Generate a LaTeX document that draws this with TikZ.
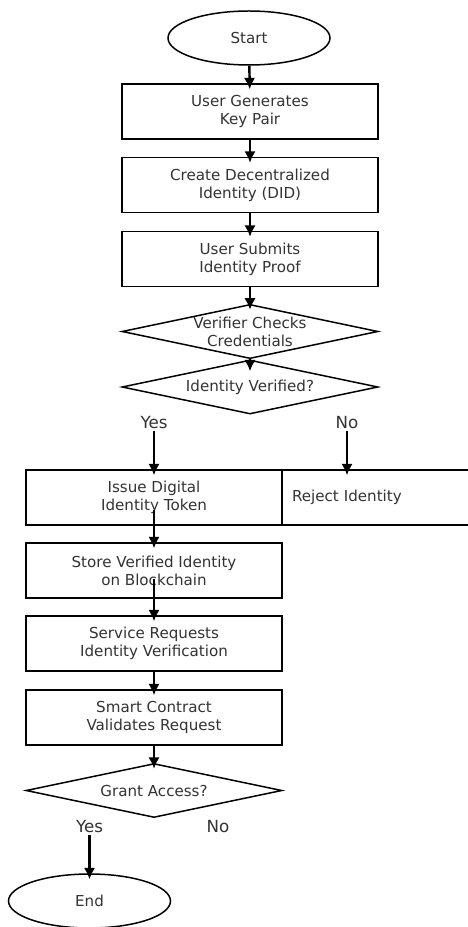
\documentclass[tikz,border=0pt]{standalone}
\usepackage{fontspec}
\setmainfont{DejaVu Sans}
\usetikzlibrary{shapes.geometric,arrows.meta}

\begin{document}
\begin{tikzpicture}[
  txt/.style={font=\fontsize{8.6}{10.2}\selectfont, text=black!80, align=center},
  lbl/.style={font=\fontsize{9.5}{11}\selectfont, text=black!80, inner sep=1pt},
  term/.style={txt, ellipse, draw=black, line width=0.85pt, fill=white, minimum width=3.24cm, minimum height=1.08cm, inner sep=0pt},
  proc/.style={txt, rectangle, draw=black, line width=0.85pt, fill=white, minimum width=5.12cm, minimum height=1.1cm},
  dec/.style={txt, diamond, draw=black, line width=0.85pt, minimum width=5.12cm, minimum height=1.08cm, inner sep=0pt, shape aspect=4.6},
  arr/.style={draw=black, line width=1.4pt, -{Latex[length=6.5pt,width=6.5pt]}, shorten >=-0.12cm}
]
\clip (0,0) rectangle (9.36,-18.54);
\fill[white] (0,0) rectangle (9.36,-18.54);

\node[term] (start) at (4.98, -0.76) {Start};
\node[proc] (gen) at (5.00, -2.23) {User Generates\\Key Pair};
\node[proc] (did) at (5.00, -3.70) {Create Decentralized\\Identity (DID)};
\node[proc] (proof) at (5.00, -5.18) {User Submits\\Identity Proof};
\node[dec] (check) at (5.00, -6.63) {Verifier Checks\\Credentials};
\node[dec] (verified) at (5.00, -7.74) {Identity Verified?};
\node[lbl] (yes1) at (3.08, -8.46) {Yes};
\node[lbl] (no1) at (6.94, -8.46) {No};
\node[proc] (issue) at (3.08, -9.95) {Issue Digital\\Identity Token};
\node[proc, align=left, text width=4.72cm, inner sep=0.2cm] (reject) at (8.20, -9.95) {Reject Identity};
\node[proc] (store) at (3.08, -11.41) {Store Verified Identity\\on Blockchain};
\node[proc] (service) at (3.08, -12.87) {Service Requests\\Identity Verification};
\node[proc] (smart) at (3.08, -14.35) {Smart Contract\\Validates Request};
\node[dec] (grant) at (3.08, -15.81) {Grant Access?};
\node[lbl] (yes2) at (1.79, -16.54) {Yes};
\node[lbl] (no2) at (4.36, -16.54) {No};
\node[term] (end) at (1.79, -18.02) {End};

\draw[arr] (start) -- (gen);
\draw[arr] (gen) -- (did);
\draw[arr] (did) -- (proof);
\draw[arr] (proof) -- (check);
\draw[arr] (check.south) -- ([yshift=-0.12cm]verified.north);
\draw[arr] (yes1) -- (issue);
\draw[arr] (no1) -- (no1 |- reject.north);
\draw[arr] ([yshift=0.32cm]issue.south) -- (store.north);
\draw[arr] ([yshift=0.40cm]store.south) -- (service.north);
\draw[arr] (service) -- (smart);
\draw[arr] (smart) -- (grant);
\draw[arr] (yes2) -- (end);

\end{tikzpicture}
\end{document}
